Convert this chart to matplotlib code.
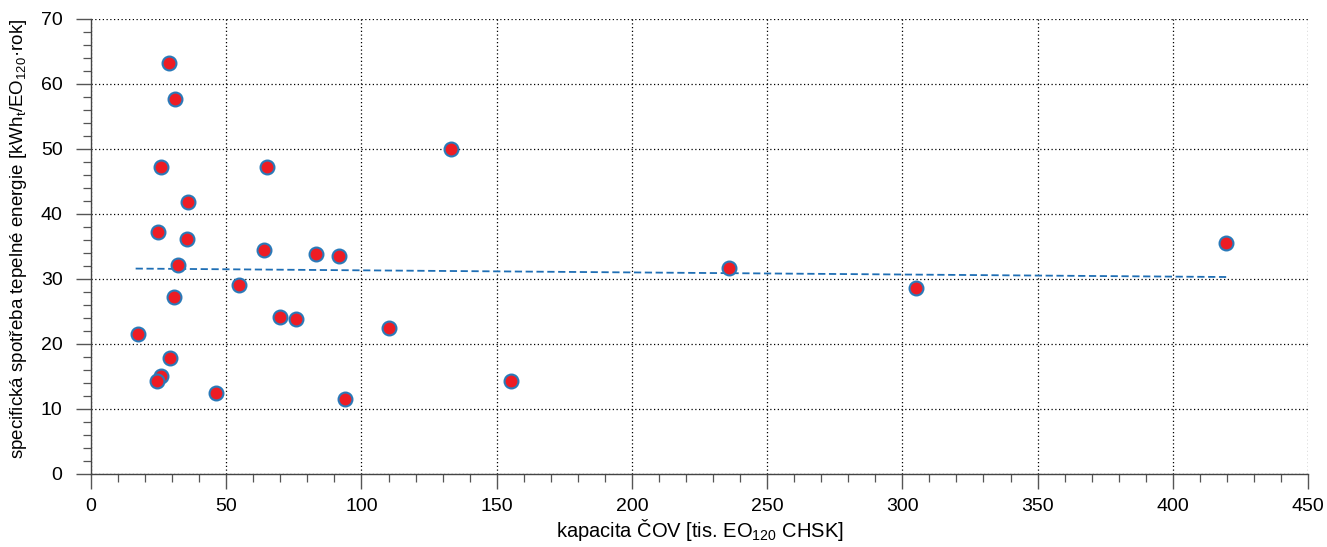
import matplotlib
matplotlib.use('Agg')
import matplotlib.pyplot as plt
from matplotlib.ticker import MultipleLocator

plt.rcParams['font.family'] = ['Liberation Sans', 'DejaVu Sans']
plt.rcParams['mathtext.fontset'] = 'custom'
plt.rcParams['mathtext.rm'] = 'Liberation Sans'
plt.rcParams['mathtext.it'] = 'Liberation Sans:italic'

# capacity of WWTP [thousand PE] vs specific heat consumption
kapacita = [28.8, 31.1, 25.8, 65.0, 35.7, 24.7, 35.6, 64.0, 83.1, 91.7,
            32.1, 54.7, 30.8, 69.9, 75.9, 17.3, 29.2, 25.9, 24.4, 46.1,
            93.9, 110.0, 133.1, 155.3, 235.9, 305.0, 419.7]
spotreba = [63.2, 57.7, 47.3, 47.3, 41.8, 37.3, 36.2, 34.5, 33.8, 33.6,
            32.1, 29.1, 27.3, 24.2, 23.9, 21.5, 17.9, 15.0, 14.3, 12.4,
            11.5, 22.5, 50.0, 14.3, 31.7, 28.6, 35.5]

# linear trend end points
trend_x = [16.5, 420.5]
trend_y = [31.6, 30.3]

fig = plt.figure(figsize=(13.27, 5.47), dpi=100)
ax = fig.add_axes([0.0686, 0.1335, 0.9171, 0.8318])

ax.plot(trend_x, trend_y, linestyle='--', color='#1f6fb5', linewidth=1.3,
        dashes=(4, 2), zorder=2)
ax.plot(kapacita, spotreba, linestyle='none', marker='o', markersize=10,
        markerfacecolor='#ed1c24', markeredgecolor='#2a7ab9',
        markeredgewidth=1.5, zorder=3)

ax.set_xlim(0, 450)
ax.set_ylim(0, 70)
ax.xaxis.set_major_locator(MultipleLocator(50))
ax.xaxis.set_minor_locator(MultipleLocator(10))
ax.yaxis.set_major_locator(MultipleLocator(10))
ax.yaxis.set_minor_locator(MultipleLocator(2))

ax.grid(True, which='major', linestyle=(0, (1, 2)), color='black', linewidth=0.9)
ax.set_axisbelow(True)

for s in ['top', 'right']:
    ax.spines[s].set_visible(False)
for s in ['left', 'bottom']:
    ax.spines[s].set_color('#444444')
    ax.spines[s].set_linewidth(1.0)

ax.tick_params(which='major', direction='out', length=10.5, width=1.0,
               color='#555555', labelsize=14)
ax.tick_params(axis='x', which='major', pad=6.5)
ax.tick_params(axis='y', which='major', pad=10)
ax.tick_params(which='minor', direction='out', length=6, width=0.9,
               color='#555555')

ax.set_xlabel('kapacita ČOV [tis. EO$_\\mathrm{120}$ CHSK]', fontsize=14.5)
ax.set_ylabel('specifická spotřeba tepelné energie [kWh$_\\mathrm{t}$/EO$_\\mathrm{120}$·rok]',
              fontsize=13.5)
ax.xaxis.set_label_coords(0.5, -0.1385)
ax.xaxis.label.set_va('baseline')
ax.yaxis.set_label_coords(-0.06, 0.516)
ax.yaxis.label.set_va('center')

fig.savefig('out.png', dpi=100)
